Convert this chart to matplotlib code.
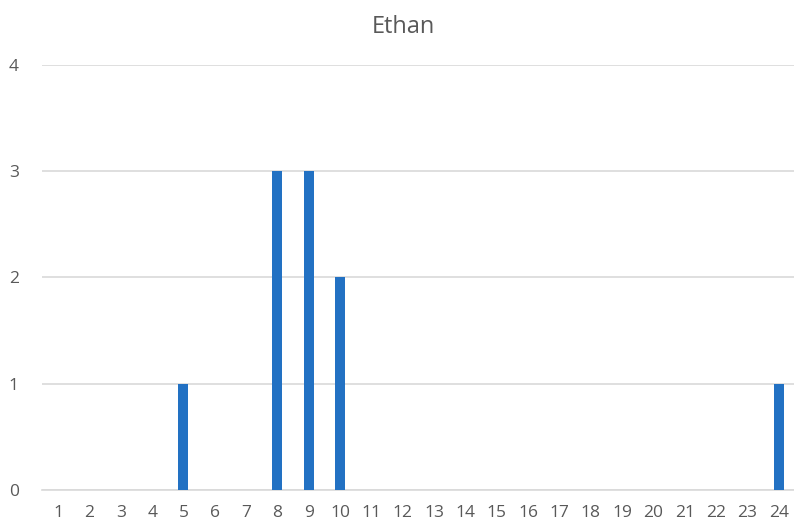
import matplotlib
matplotlib.use("Agg")
import matplotlib.pyplot as plt

# hours 1..24 and counts
categorias = [str(h) for h in range(1, 25)]
valores = [0, 0, 0, 0, 1, 0, 0, 3, 3, 2, 0, 0, 0, 0, 0, 0, 0, 0, 0, 0, 0, 0, 0, 1]
titulo = "Ethan"

plt.rcParams['font.family'] = ['Open Sans', 'DejaVu Sans']
gris = "#595959"

fig = plt.figure(figsize=(7.94, 5.25), dpi=100)
ax = fig.add_axes([0.0535, 0.0667, 0.947, 0.8095])

x = range(len(categorias))
ax.bar(x, valores, width=0.32, color="#2271C3", zorder=3)

ax.set_xlim(-0.5, len(categorias) - 0.5)
ax.set_ylim(0, 4)
ax.set_yticks([0, 1, 2, 3, 4])
ax.set_xticks(list(x))
ax.set_xticklabels(categorias)
ax.yaxis.grid(True, color="#D9D9D9", linewidth=1.2, zorder=0)
ax.tick_params(length=0, labelsize=12.5, colors=gris)
ax.tick_params(axis='x', pad=11)
ax.tick_params(axis='y', pad=17)
for s in ["top", "right", "left"]:
    ax.spines[s].set_visible(False)
ax.spines["bottom"].set_color("#D9D9D9")
ax.spines["bottom"].set_linewidth(1.2)

fig.text(0.5085, 0.948, titulo, ha="center", va="center", fontsize=17, color=gris)

fig.savefig("out.png", dpi=100)
